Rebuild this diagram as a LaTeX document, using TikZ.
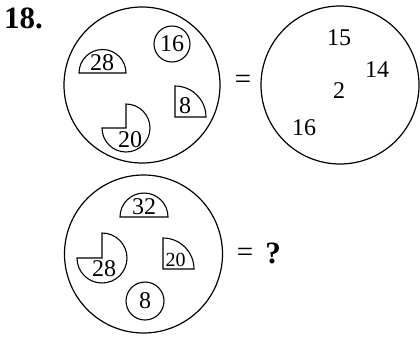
\documentclass[tikz,border=0pt]{standalone}
\usepackage{fontspec}
\setmainfont{Liberation Serif}
\begin{document}
\begin{tikzpicture}[x=1pt,y=1pt,
  shp/.style={line width=1.1pt},
  big/.style={line width=1.2pt},
  num/.style={inner sep=0pt,font=\fontsize{24}{24}\selectfont},
  snum/.style={inner sep=0pt,font=\fontsize{20}{20}\selectfont},
  eqs/.style={inner sep=0pt,font=\fontsize{29}{29}\selectfont},
  bnum/.style={inner sep=0pt,font=\fontsize{31}{31}\selectfont\bfseries}]
\useasboundingbox (0,0) rectangle (420,-338);
\node[bnum] (title) at (23.5,-18) {18.};
% first circle
\draw[big] (142,-85) circle[radius=78];
\draw[shp] (79,-73) -- (126,-73) arc[start angle=0,end angle=180,radius=23.5] -- cycle;
\node[num] (a28) at (102,-63) {28};
\draw[shp] (172,-44) circle[radius=18];
\node[num] (a16) at (172,-44) {16};
\draw[shp] (175,-117) -- (175,-86) arc[start angle=90,end angle=0,radius=31] -- cycle;
\node[num] (a8) at (185,-106) {8};
\draw[shp] (126,-128) -- (126,-104) arc[start angle=90,end angle=-180,radius=24] -- cycle;
\node[num] (a20) at (130,-140) {20};
\node[eqs] (eq1) at (243,-82) {=};
% second circle
\draw[big] (340,-85) circle[radius=79];
\node[num] (b15) at (339,-38) {15};
\node[num] (b14) at (377,-70) {14};
\node[num] (b2) at (339,-91) {2};
\node[num] (b16) at (304,-128) {16};
% third circle
\draw[big] (143.5,-254) circle[radius=79];
\draw[shp] (120,-217) -- (168,-217) arc[start angle=0,end angle=180,radius=24] -- cycle;
\node[num] (c32) at (144,-207) {32};
\draw[shp] (102,-258) -- (102,-233) arc[start angle=90,end angle=-180,radius=25] -- cycle;
\node[num] (c28) at (104,-269) {28};
\draw[shp] (163,-269) -- (163,-238) arc[start angle=90,end angle=0,radius=31] -- cycle;
\node[snum] (c20) at (175.5,-259.5) {20};
\draw[shp] (145,-301) circle[radius=19];
\node[num] (c8) at (145,-301) {8};
\node[eqs] (eq2) at (245,-255) {=};
\node[bnum] (q) at (273,-253) {?};
\end{tikzpicture}
\end{document}
